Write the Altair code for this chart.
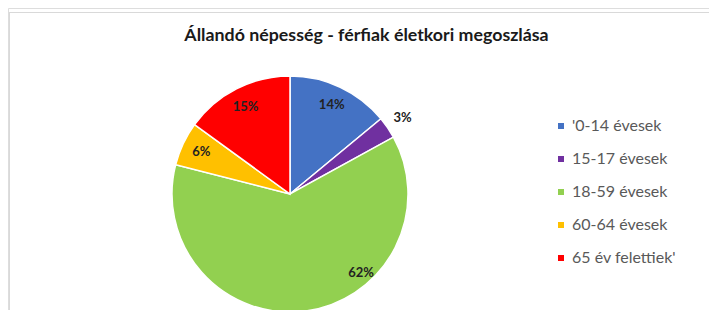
import altair as alt
import pandas as pd

categories = ["'0-14 évesek", "15-17 évesek", "18-59 évesek", "60-64 évesek", "65 év felettiek'"]
values = [14, 3, 62, 6, 15]
labels = ["14%", "3%", "62%", "6%", "15%"]
colors = ["#4472C4", "#7030A0", "#92D050", "#FFC000", "#FF0000"]
title_text = "Állandó népesség - férfiak életkori megoszlása"

df = pd.DataFrame({"cat": categories, "v": values, "lab": labels, "idx": list(range(len(values)))})

W, H = 701, 302
CX, CY = 282, 186
R = 118
FONT = "Lato"

base = alt.Chart(df)

pie = base.mark_arc(radius=R, stroke="white", strokeWidth=1.5).encode(
    theta=alt.Theta("v:Q", stack=True, scale=alt.Scale(domain=[0, 100])),
    color=alt.Color(
        "cat:N",
        scale=alt.Scale(domain=categories, range=colors),
        sort=categories,
        legend=alt.Legend(
            title=None, orient="none", legendX=545, legendY=110,
            symbolType="square", symbolSize=36, symbolStrokeWidth=0,
            labelFont=FONT, labelFontSize=16, labelColor="#595959",
            labelOffset=3, rowPadding=17, padding=0,
        ),
    ),
    order=alt.Order("idx:Q"),
    x=alt.value(CX),
    y=alt.value(CY),
)

lab = base.transform_window(
    cum="sum(v)", sort=[alt.SortField("idx")]
).transform_calculate(mid="datum.cum - datum.v / 2")

text_style = dict(fontSize=13, fontWeight="bold", font=FONT, color="#222222")

inner = lab.transform_filter("datum.idx == 0 || datum.idx == 3 || datum.idx == 4").mark_text(
    radius=98, **text_style
).encode(
    theta=alt.Theta("mid:Q", scale=alt.Scale(domain=[0, 100])),
    text="lab:N", x=alt.value(CX), y=alt.value(CY),
)

outer = lab.transform_filter("datum.idx == 1").mark_text(
    radius=136, **text_style
).encode(
    theta=alt.Theta("mid:Q", scale=alt.Scale(domain=[0, 100])),
    text="lab:N", x=alt.value(CX), y=alt.value(CY),
)

big = lab.transform_filter("datum.idx == 2").mark_text(
    radius=106, thetaOffset=-0.61, **text_style
).encode(
    theta=alt.Theta("mid:Q", scale=alt.Scale(domain=[0, 100])),
    text="lab:N", x=alt.value(CX), y=alt.value(CY),
)

tdf = pd.DataFrame({"t": [title_text]})
title = alt.Chart(tdf).mark_text(
    font=FONT, fontSize=17.8, fontWeight="bold", color="#1a1a1a", baseline="middle"
).encode(text="t:N", x=alt.value(358.5), y=alt.value(28))

frame_h = alt.Chart(tdf).mark_rule(color="#d9d9d9", strokeWidth=1).encode(
    x=alt.value(1), x2=alt.value(W + 10), y=alt.value(4.5)
)
frame_v = alt.Chart(tdf).mark_rule(color="#d9d9d9", strokeWidth=1).encode(
    x=alt.value(1.5), y=alt.value(4), y2=alt.value(H + 10)
)

chart = alt.layer(frame_h, frame_v, pie, inner, outer, big, title).properties(
    width=W, height=H, autosize=alt.AutoSizeParams(type="none"), padding=0
).configure_view(stroke=None).configure(background="white")

chart.save("out.html", embed_options={"renderer": "svg", "actions": False})
